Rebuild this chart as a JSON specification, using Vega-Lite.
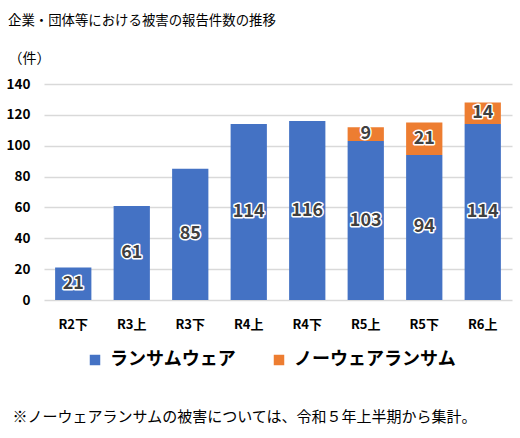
{
  "$schema": "https://vega.github.io/schema/vega-lite/v6.json",
  "width": 468,
  "height": 216,
  "autosize": {"type": "none"},
  "padding": {"left": 44, "top": 84, "right": 8, "bottom": 138},
  "background": "white",
  "config": {
    "font": "Noto Sans CJK JP",
    "view": {"stroke": null}
  },
  "title": {
    "text": "企業・団体等における被害の報告件数の推移",
    "anchor": "start",
    "frame": "group",
    "dx": -36,
    "offset": 24,
    "fontSize": 13.4,
    "fontWeight": "normal",
    "color": "#000000"
  },
  "data": {
    "values": [
      {"period": "R2下", "series": "ランサムウェア", "count": 21},
      {"period": "R3上", "series": "ランサムウェア", "count": 61},
      {"period": "R3下", "series": "ランサムウェア", "count": 85},
      {"period": "R4上", "series": "ランサムウェア", "count": 114},
      {"period": "R4下", "series": "ランサムウェア", "count": 116},
      {"period": "R5上", "series": "ランサムウェア", "count": 103},
      {"period": "R5下", "series": "ランサムウェア", "count": 94},
      {"period": "R6上", "series": "ランサムウェア", "count": 114},
      {"period": "R5上", "series": "ノーウェアランサム", "count": 9},
      {"period": "R5下", "series": "ノーウェアランサム", "count": 21},
      {"period": "R6上", "series": "ノーウェアランサム", "count": 14}
    ]
  },
  "transform": [
    {
      "stack": "count",
      "groupby": ["period"],
      "sort": [{"field": "series", "order": "descending"}],
      "as": ["s0", "s1"]
    }
  ],
  "encoding": {
    "x": {
      "field": "period",
      "type": "nominal",
      "sort": ["R2下", "R3上", "R3下", "R4上", "R4下", "R5上", "R5下", "R6上"],
      "scale": {"paddingInner": 0.38, "paddingOuter": 0.19},
      "axis": {
        "labelAngle": 0,
        "labelFontSize": 13,
        "labelFontWeight": "bold",
        "labelColor": "#000000",
        "labelPadding": 18,
        "ticks": false,
        "domain": false,
        "title": "※ノーウェアランサムの被害については、令和５年上半期から集計。",
        "titleFontSize": 15,
        "titleFontWeight": "normal",
        "titleColor": "#000000",
        "titleAnchor": "start",
        "titleAlign": "left",
        "titleBaseline": "middle",
        "titleX": -32,
        "titleY": 116
      }
    }
  },
  "layer": [
    {
      "mark": {"type": "bar"},
      "encoding": {
        "y": {
          "field": "s0",
          "type": "quantitative",
          "scale": {"domain": [0, 140], "nice": false},
          "axis": {
            "values": [0, 20, 40, 60, 80, 100, 120, 140],
            "labelOverlap": false,
            "labelFontSize": 13.5,
            "labelFontWeight": "bold",
            "labelColor": "#000000",
            "labelPadding": 14,
            "ticks": false,
            "domain": false,
            "grid": true,
            "gridColor": "#d9d9d9",
            "gridWidth": 1.5,
            "title": "（件）",
            "titleAngle": 0,
            "titleFontSize": 14,
            "titleFontWeight": "normal",
            "titleColor": "#000000",
            "titleAlign": "left",
            "titleBaseline": "middle",
            "titleX": -36,
            "titleY": -26
          }
        },
        "y2": {"field": "s1"},
        "color": {
          "field": "series",
          "type": "nominal",
          "scale": {
            "domain": ["ランサムウェア", "ノーウェアランサム"],
            "range": ["#4472C4", "#ED7D31"]
          },
          "legend": {
            "title": null,
            "orient": "none",
            "direction": "horizontal",
            "legendX": 42,
            "legendY": 267,
            "symbolType": "square",
            "symbolSize": 110,
            "symbolStrokeWidth": 0,
            "symbolOpacity": 1,
            "labelFontSize": 18,
            "labelFontWeight": "bold",
            "labelColor": "#000000",
            "labelOffset": 6,
            "columnPadding": 34,
            "labelLimit": 300
          }
        }
      }
    },
    {
      "transform": [
        {"fold": ["s0", "s1"], "as": ["edge", "pos"]},
        {
          "aggregate": [
            {"op": "mean", "field": "pos", "as": "mid"},
            {"op": "max", "field": "count", "as": "n"}
          ],
          "groupby": ["period", "series"]
        }
      ],
      "mark": {
        "type": "text",
        "fontSize": 18,
        "fontWeight": "bold",
        "baseline": "middle",
        "stroke": "#ffffff",
        "strokeWidth": 3,
        "strokeJoin": "round",
        "fill": "#ffffff"
      },
      "encoding": {
        "y": {
          "field": "mid",
          "type": "quantitative",
          "scale": {"domain": [0, 140], "nice": false},
          "axis": {
            "values": [0, 20, 40, 60, 80, 100, 120, 140],
            "labelOverlap": false,
            "labelFontSize": 13.5,
            "labelFontWeight": "bold",
            "labelColor": "#000000",
            "labelPadding": 14,
            "ticks": false,
            "domain": false,
            "grid": true,
            "gridColor": "#d9d9d9",
            "gridWidth": 1.5,
            "title": "（件）",
            "titleAngle": 0,
            "titleFontSize": 14,
            "titleFontWeight": "normal",
            "titleColor": "#000000",
            "titleAlign": "left",
            "titleBaseline": "middle",
            "titleX": -36,
            "titleY": -26
          }
        },
        "text": {"field": "n", "type": "quantitative"}
      }
    },
    {
      "transform": [
        {"fold": ["s0", "s1"], "as": ["edge", "pos"]},
        {
          "aggregate": [
            {"op": "mean", "field": "pos", "as": "mid"},
            {"op": "max", "field": "count", "as": "n"}
          ],
          "groupby": ["period", "series"]
        }
      ],
      "mark": {
        "type": "text",
        "fontSize": 18,
        "fontWeight": "bold",
        "baseline": "middle",
        "fill": "#404040"
      },
      "encoding": {
        "y": {
          "field": "mid",
          "type": "quantitative",
          "scale": {"domain": [0, 140], "nice": false},
          "axis": {
            "values": [0, 20, 40, 60, 80, 100, 120, 140],
            "labelOverlap": false,
            "labelFontSize": 13.5,
            "labelFontWeight": "bold",
            "labelColor": "#000000",
            "labelPadding": 14,
            "ticks": false,
            "domain": false,
            "grid": true,
            "gridColor": "#d9d9d9",
            "gridWidth": 1.5,
            "title": "（件）",
            "titleAngle": 0,
            "titleFontSize": 14,
            "titleFontWeight": "normal",
            "titleColor": "#000000",
            "titleAlign": "left",
            "titleBaseline": "middle",
            "titleX": -36,
            "titleY": -26
          }
        },
        "text": {"field": "n", "type": "quantitative"}
      }
    }
  ]
}
